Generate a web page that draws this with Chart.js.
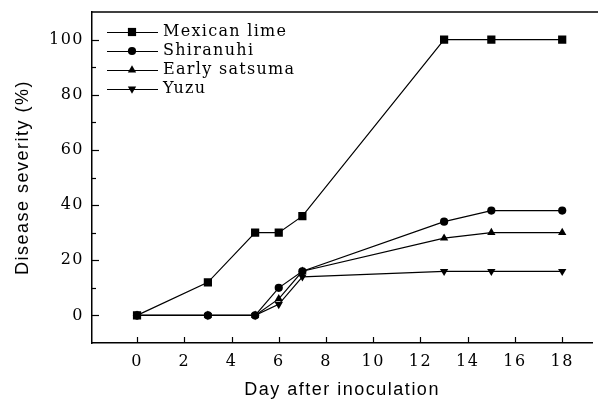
<!DOCTYPE html>
<html>
<head>
<meta charset="utf-8">
<script src="https://cdn.jsdelivr.net/npm/chart.js@4/dist/chart.umd.min.js"></script>
<style>
html,body{margin:0;padding:0;background:#fff;}
#wrap{width:598px;height:403px;}
</style>
</head>
<body>
<div id="wrap"><canvas id="c" width="598" height="403"></canvas></div>
<script>
const days = [0, 3, 5, 6, 7, 13, 15, 18];
const mexicanLime = [0, 12, 30, 30, 36, 100, 100, 100];
const shiranuhi = [0, 0, 0, 10, 16, 34, 38, 38];
const earlySatsuma = [0, 0, 0, 6, 16, 28, 30, 30];
const yuzu = [0, 0, 0, 4, 14, 16, 16, 16];
const seriesNames = ['Mexican lime', 'Shiranuhi', 'Early satsuma', 'Yuzu'];
const xTickValues = [0, 2, 4, 6, 8, 10, 12, 14, 16, 18];
const yTickValues = [0, 20, 40, 60, 80, 100];
const yMinorValues = [10, 30, 50, 70, 90];

const toXY = vals => days.map((d, i) => ({x: d, y: vals[i]}));

const styles = [
  {pointStyle: 'rect', radius: 5.8, rotation: 0},
  {pointStyle: 'circle', radius: 4.1, rotation: 0},
  {pointStyle: 'triangle', radius: 4.8, rotation: 0},
  {pointStyle: 'triangle', radius: 4.8, rotation: 180}
];
const seriesValues = [mexicanLime, shiranuhi, earlySatsuma, yuzu];

function drawMarker(ctx, st, x, y) {
  const r = st.radius;
  ctx.beginPath();
  if (st.pointStyle === 'rect') {
    const s = Math.SQRT1_2 * r;
    ctx.rect(x - s, y - s, 2 * s, 2 * s);
  } else if (st.pointStyle === 'circle') {
    ctx.arc(x, y, r, 0, Math.PI * 2);
  } else {
    const rad = st.rotation * Math.PI / 180;
    for (let k = 0; k < 3; k++) {
      const a = rad - Math.PI / 2 + k * 2 * Math.PI / 3;
      const px = x + Math.cos(a) * r, py = y + Math.sin(a) * r;
      if (k === 0) ctx.moveTo(px, py); else ctx.lineTo(px, py);
    }
    ctx.closePath();
  }
  ctx.fillStyle = '#000';
  ctx.fill();
}

const spacingPlugin = {
  id: 'spacing',
  beforeUpdate(chart) { chart.ctx.letterSpacing = '1.5px'; },
  beforeLayout(chart) { chart.ctx.letterSpacing = '1.5px'; },
  beforeDraw(chart) { chart.ctx.letterSpacing = '1.5px'; }
};

const framePlugin = {
  id: 'frame',
  afterDraw(chart) {
    const ctx = chart.ctx;
    const a = chart.chartArea;
    const xs = chart.scales.x, ys = chart.scales.y;
    ctx.save();
    ctx.strokeStyle = '#000';
    // top border
    ctx.lineWidth = 1.5;
    ctx.beginPath();
    ctx.moveTo(a.left, a.top);
    ctx.lineTo(598, a.top);
    ctx.stroke();
    // inward ticks
    ctx.lineWidth = 1.2;
    xTickValues.forEach(v => {
      const px = Math.round(xs.getPixelForValue(v)) + 0.5;
      ctx.beginPath(); ctx.moveTo(px, a.bottom); ctx.lineTo(px, a.bottom - 6); ctx.stroke();
    });
    yTickValues.forEach(v => {
      const py = Math.round(ys.getPixelForValue(v)) + 0.5;
      ctx.beginPath(); ctx.moveTo(a.left, py); ctx.lineTo(a.left + 7, py); ctx.stroke();
    });
    yMinorValues.forEach(v => {
      const py = Math.round(ys.getPixelForValue(v)) + 0.5;
      ctx.beginPath(); ctx.moveTo(a.left, py); ctx.lineTo(a.left + 4, py); ctx.stroke();
    });
    // legend
    ctx.letterSpacing = '1.3px';
    ctx.font = '16px "DejaVu Serif"';
    ctx.textBaseline = 'middle';
    ctx.textAlign = 'left';
    ctx.fillStyle = '#000';
    seriesNames.forEach((name, i) => {
      const y = 32 + i * 19;
      ctx.lineWidth = 1;
      ctx.beginPath(); ctx.moveTo(107, y + 0.5); ctx.lineTo(158, y + 0.5); ctx.stroke();
      drawMarker(ctx, styles[i], 132, y);
      ctx.fillStyle = '#000';
      ctx.fillText(name, 163, y);
    });
    ctx.restore();
  }
};

new Chart(document.getElementById('c'), {
  type: 'line',
  data: {
    datasets: seriesNames.map((name, i) => ({
      label: name,
      data: toXY(seriesValues[i]),
      borderColor: '#000',
      backgroundColor: '#000',
      borderWidth: 1.2,
      pointStyle: styles[i].pointStyle,
      pointRadius: styles[i].radius,
      pointRotation: styles[i].rotation,
      pointBackgroundColor: '#000',
      pointBorderColor: '#000',
      pointBorderWidth: 0,
      tension: 0,
      fill: false
    }))
  },
  options: {
    responsive: false,
    animation: false,
    devicePixelRatio: 1,
    layout: {padding: {top: 12, right: 1, left: 0, bottom: 0}},
    plugins: {legend: {display: false}, tooltip: {enabled: false}},
    scales: {
      x: {
        type: 'linear',
        min: -1.906,
        max: 19.27,
        afterBuildTicks: s => { s.ticks = xTickValues.map(v => ({value: v})); },
        afterFit: s => { s.height = 60; s.paddingLeft = 0; s.paddingRight = 0; },
        grid: {display: false, drawTicks: false},
        border: {display: true, color: '#000', width: 1.5},
        ticks: {color: '#000', font: {family: 'DejaVu Serif', size: 16}, padding: 9, maxRotation: 0, autoSkip: false},
        title: {display: true, text: 'Day after inoculation', color: '#000', font: {family: 'Liberation Sans', size: 18}, padding: {top: 0, bottom: 2}}
      },
      y: {
        type: 'linear',
        min: -10,
        max: 110,
        afterBuildTicks: s => { s.ticks = yTickValues.map(v => ({value: v})); },
        afterFit: s => { s.width = 92; s.paddingTop = 0; s.paddingBottom = 0; },
        grid: {display: false, drawTicks: false},
        border: {display: true, color: '#000', width: 1.5},
        ticks: {color: '#000', font: {family: 'DejaVu Serif', size: 16}, padding: 8},
        title: {display: true, text: 'Disease severity (%)', color: '#000', font: {family: 'Liberation Sans', size: 18}, padding: {top: 12, bottom: 0}}
      }
    }
  },
  plugins: [spacingPlugin, framePlugin]
});
</script>
</body>
</html>
